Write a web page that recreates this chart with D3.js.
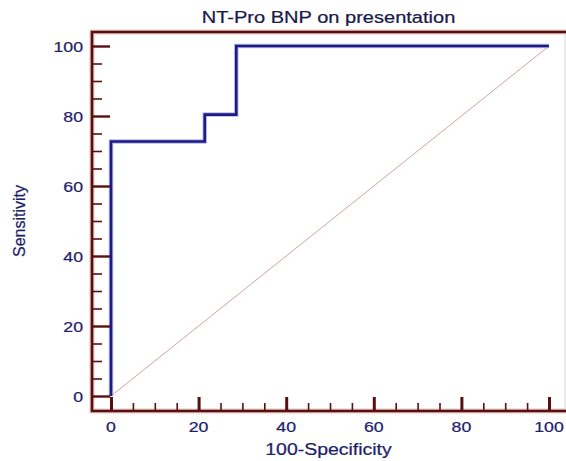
<!DOCTYPE html>
<html><head><meta charset="utf-8">
<script src="https://cdn.jsdelivr.net/npm/d3@7"></script>
<style>body{margin:0;background:#fff}svg{display:block}text{font-family:"Liberation Sans",Arial,sans-serif}</style>
</head><body>
<svg id="c" width="566" height="461"></svg>
<script>
const title = "NT-Pro BNP on presentation";
const xLabel = "100-Specificity";
const yLabel = "Sensitivity";
const majorTicks = [0, 20, 40, 60, 80, 100];
const minorTicks = [5,10,15,25,30,35,45,50,55,65,70,75,85,90,95];
// ROC curve points (100-Specificity, Sensitivity)
const rocX = [0, 0, 21.4, 21.4, 28.6, 28.6, 100];
const rocY = [0, 72.7, 72.7, 80.4, 80.4, 100, 100];
const refX = [0, 100];
const refY = [0, 100];

const svg = d3.select("#c");
const x = d3.scaleLinear().domain([0,100]).range([111,549]);
const y = d3.scaleLinear().domain([0,100]).range([396,46]);
const L = 92, T = 32, R = 565, B = 411;
const maroon = "#5a0f0f", navy = "#1f1f6b", halo = "#e6c8c8";
const SX = 1.18;

// halo + frame
svg.append("path").attr("d", `M${R+1},${T} H${L} V${B} H${R+1}`)
  .attr("fill","none").attr("stroke",halo).attr("stroke-width",5);
svg.append("line").attr("x1",R).attr("x2",R).attr("y1",T).attr("y2",B).attr("stroke","#d8d8d8").attr("stroke-width",1);

// diagonal reference
svg.append("path").datum(refX.map((v,i)=>[v,refY[i]]))
  .attr("d", d3.line().x(d=>x(d[0])).y(d=>y(d[1])))
  .attr("fill","none").attr("stroke","#cfa3a0").attr("stroke-width",1);

// ROC
const roc = rocX.map((v,i)=>[v,rocY[i]]);
svg.append("path").datum(roc)
  .attr("d", d3.line().x(d=>x(d[0])).y(d=>y(d[1])))
  .attr("fill","none").attr("stroke","#b8b8e0").attr("stroke-width",4.5).attr("stroke-linejoin","miter");
svg.append("path").datum(roc)
  .attr("d", d3.line().x(d=>x(d[0])).y(d=>y(d[1])))
  .attr("fill","none").attr("stroke","#1c1c86").attr("stroke-width",2.6).attr("stroke-linejoin","miter");

function styleAxis(g, w){
  g.select(".domain").remove();
  g.selectAll(".tick line").attr("stroke",maroon).attr("stroke-width",w);
  g.selectAll(".tick text").remove();
}
// y ticks (inward)
svg.append("g").attr("transform",`translate(${L},0)`)
  .call(d3.axisRight(y).tickValues(majorTicks).tickSize(18)).call(g=>styleAxis(g,2.4));
svg.append("g").attr("transform",`translate(${L},0)`)
  .call(d3.axisRight(y).tickValues(minorTicks).tickSize(10)).call(g=>styleAxis(g,1.6));
// x ticks (inward)
svg.append("g").attr("transform",`translate(0,${B})`)
  .call(d3.axisTop(x).tickValues(majorTicks).tickSize(14)).call(g=>styleAxis(g,3));
svg.append("g").attr("transform",`translate(0,${B})`)
  .call(d3.axisTop(x).tickValues(minorTicks).tickSize(8)).call(g=>styleAxis(g,1.6));

// frame lines
svg.append("path").attr("d", `M${R+1},${T} H${L} V${B} H${R+1}`)
  .attr("fill","none").attr("stroke",maroon).attr("stroke-width",2.6);

// labels
function stretched(sel, ax, ay, anchor){
  return sel.attr("text-anchor",anchor).attr("transform",`translate(${ax},${ay}) scale(${SX},1)`)
    .attr("stroke",navy).attr("stroke-width",0.25);
}
svg.selectAll(".yl").data(majorTicks).enter().append("text")
  .each(function(d){ stretched(d3.select(this), 83, y(d)+5.5, "end"); })
  .attr("font-size",15).attr("fill",navy).text(d=>d);
svg.selectAll(".xl").data(majorTicks).enter().append("text")
  .each(function(d){ stretched(d3.select(this), x(d), 432, "middle"); })
  .attr("font-size",15).attr("fill",navy).text(d=>d);

stretched(svg.append("text"), (L+R)/2, 23, "middle").attr("font-size",17).attr("fill","#1a1a4a").attr("stroke","#1a1a4a").text(title);
stretched(svg.append("text"), (L+R)/2, 455, "middle").attr("font-size",16.5).attr("fill",navy).text(xLabel);
svg.append("text").attr("text-anchor","middle").attr("transform","translate(25,221) rotate(-90)")
  .attr("stroke",navy).attr("stroke-width",0.25)
  .attr("font-size",16).attr("fill",navy).text(yLabel);
</script>
</body></html>
